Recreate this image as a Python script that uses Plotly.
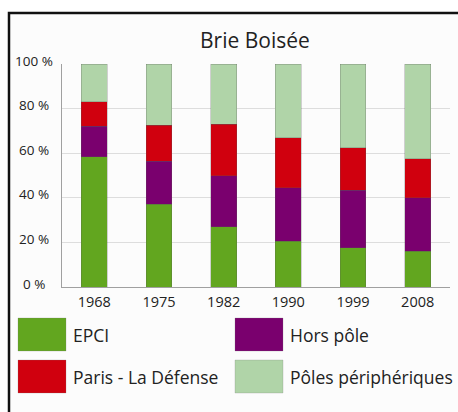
import plotly.graph_objects as go

years = ["1968", "1975", "1982", "1990", "1999", "2008"]
series_names = ["EPCI", "Hors pôle", "Paris - La Défense", "Pôles périphériques"]
epci = [58.5, 37, 27, 20.5, 17.5, 16]
hors_pole = [13.5, 19.5, 23, 24, 26, 24]
paris = [11, 16, 23, 22.5, 19, 17.5]
poles = [17, 27.5, 27, 33, 37.5, 42.5]
colors = ["#62A61F", "#7A006E", "#D0000E", "#B0D4A8"]
y_ticks = [0, 20, 40, 60, 80, 100]
y_tick_labels = ["0 %", "20 %", "40 %", "60 %", "80 %", "100 %"]
title = "Brie Boisée"

W, H = 458, 412
L, R, T, B = 62, 8, 64, 125
pw, ph = W - L - R, H - T - B

def px(x):
    return (x - L) / pw

def py(y):
    return (H - B - y) / ph

FONT = "Open Sans"
fig = go.Figure()
for name, vals, col in zip(series_names, [epci, hors_pole, paris, poles], colors):
    fig.add_trace(go.Bar(x=years, y=vals, name=name, marker_color=col,
                         marker_line=dict(color="rgba(90,90,90,0.45)", width=0.6),
                         width=0.4, showlegend=False))

shapes = [dict(type="rect", xref="paper", yref="paper", x0=px(9), x1=px(480), y0=py(13), y1=py(440),
               line=dict(color="#111111", width=2.5), fillcolor="#FCFCFC", layer="below")]
annotations = [dict(text=title, xref="paper", yref="paper", x=px(255), y=py(40), xanchor="center",
                    yanchor="middle", showarrow=False, font=dict(family=FONT, size=21, color="#222222"))]

for tv, tl in zip(y_ticks, y_tick_labels):
    annotations.append(dict(text=tl, xref="paper", yref="y", x=px(34), y=tv, xanchor="center",
                            yanchor="middle", yshift=3.5, showarrow=False,
                            font=dict(family=FONT, size=13.5, color="#222222")))

legend_pos = [(18, 318), (235, 318), (18, 360), (235, 360)]
for (lx, ly), name, col in zip(legend_pos, series_names, colors):
    shapes.append(dict(type="rect", xref="paper", yref="paper", x0=px(lx), x1=px(lx + 48),
                       y0=py(ly), y1=py(ly + 33), fillcolor=col,
                       line=dict(color="rgba(120,120,120,0.4)", width=0.6)))
    annotations.append(dict(text=name, xref="paper", yref="paper", x=px(lx + 53), y=py(ly + 17),
                            xanchor="left", yanchor="middle", showarrow=False,
                            font=dict(family=FONT, size=17.5, color="#222222")))

fig.update_layout(
    width=W, height=H, margin=dict(l=L, r=R, t=T, b=B),
    barmode="stack", bargap=0.6,
    paper_bgcolor="white", plot_bgcolor="rgba(0,0,0,0)",
    font=dict(family=FONT, color="#222222"),
    shapes=shapes, annotations=annotations, showlegend=False,
)
fig.update_yaxes(range=[0, 100], tickvals=y_ticks, showticklabels=False,
                 showgrid=True, gridcolor="#DDDDDD", gridwidth=1,
                 showline=True, linecolor="#A0A0A0", linewidth=1, zeroline=False, ticks="")
fig.update_xaxes(showline=True, linecolor="#A0A0A0", linewidth=1, showgrid=False,
                 tickfont=dict(size=14.5, family=FONT, color="#222222"), ticks="", ticklabelstandoff=2)

fig.write_html("out.html", config={"displayModeBar": False},
               post_script="document.body.style.margin='0';document.body.style.overflow='hidden';")
